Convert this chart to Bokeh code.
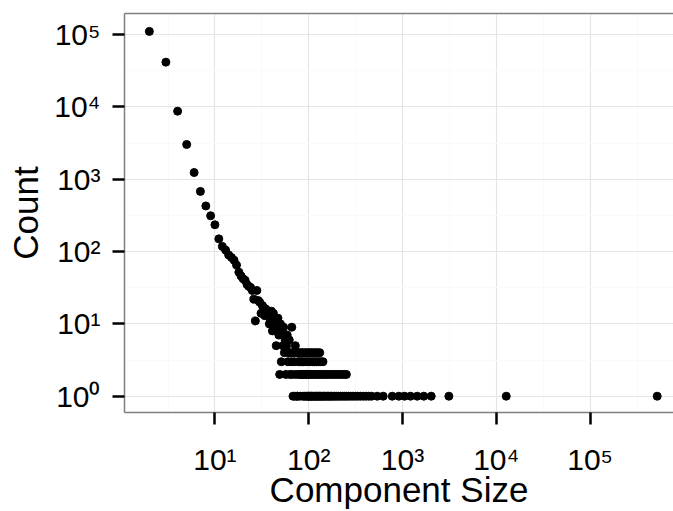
from bokeh.plotting import figure
from bokeh.models import FixedTicker, LogAxis, Range1d, ColumnDataSource
from bokeh.embed import file_html
from bokeh.resources import INLINE

# ---- data (component size -> number of components) ----
sizes_main = [2, 3, 4, 5, 6, 7, 8, 9, 10, 11, 12, 13, 14, 15, 16, 17, 18, 19,
              20, 21, 22, 23, 24, 25, 26, 27, 28, 29, 30, 31, 32, 33, 34, 35, 36, 37,
              38, 39, 40, 41, 42, 43, 44, 45, 46, 47, 48, 49, 50, 51, 52, 53, 54, 55,
              56, 57, 58, 59, 60, 61, 62, 63, 64, 65, 66, 67, 68, 69, 70, 71, 72, 73,
              74, 75]
counts_main = [111000, 41700, 8750, 3030, 1240, 680, 428, 313, 235, 150, 118, 105, 90, 83,
               76, 65, 52, 46,
               42, 40, 35, 33, 32, 29, 22, 11, 29, 21, 20, 14, 18, 17, 13, 16, 15, 14,
               10, 11, 15, 8, 14, 12, 11, 5, 9, 12, 7, 2, 10, 3, 8, 5, 9, 4,
               6, 2, 5, 7, 3, 4, 6, 2, 4, 3, 9, 2, 1, 4, 3, 1, 5, 2,
               4, 1]

sizes_count4 = [78, 82, 86, 91, 96, 101, 106, 112, 118, 124, 131]
sizes_count3 = [77, 80, 84, 88, 93, 98, 103, 109, 115, 121, 128, 135, 142]
sizes_count2 = [79, 83, 85, 89, 92, 95, 99, 104, 108, 113, 119, 126, 133, 140, 148, 157,
                166, 176, 187, 199, 212, 226, 240, 252]
sizes_count1 = [76, 81, 87, 90, 94, 97, 100, 102, 105, 107, 110, 114, 117, 120, 123, 127,
                130, 134, 138, 143, 147, 152, 158, 163, 169, 175, 182, 190, 198, 207, 217,
                228, 239, 251, 264, 279, 296, 314, 333, 355, 380, 407, 437, 468, 537, 622,
                777, 914, 1050, 1217, 1435, 1687, 2023, 3120, 12760, 519000]

x_tick_values = [10, 100, 1000, 10000, 100000]
x_tick_labels = ["10\u00b9", "10\u00b2", "10\u00b3", "10\u2074", "10\u2075"]
y_tick_values = [1, 10, 100, 1000, 10000, 100000]
y_tick_labels = ["10\u2070", "10\u00b9", "10\u00b2", "10\u00b3", "10\u2074", "10\u2075"]
half_decades = [10 ** 0.5, 10 ** 1.5, 10 ** 2.5, 10 ** 3.5, 10 ** 4.5, 10 ** 5.5]
x_title = "Component Size"
y_title = "Count"

all_sizes = (sizes_main + sizes_count4 + sizes_count3 + sizes_count2 + sizes_count1)
all_counts = (counts_main + [4] * len(sizes_count4) + [3] * len(sizes_count3)
              + [2] * len(sizes_count2) + [1] * len(sizes_count1))
src = ColumnDataSource(data=dict(size=all_sizes, count=all_counts))

FONT = "Liberation Sans"

p = figure(width=673, height=511, x_axis_type="log", y_axis_type="log",
           x_range=Range1d(10 ** 0.036, 10 ** 5.889),
           y_range=Range1d(10 ** -0.2254, 10 ** 5.293),
           output_backend="svg", toolbar_location=None,
           min_border_left=124, min_border_right=0, min_border_top=13,
           min_border_bottom=99, background_fill_color="white",
           border_fill_color="white")
p.outline_line_color = None

p.scatter("size", "count", source=src, size=8, color="black")

xt = FixedTicker(ticks=x_tick_values, minor_ticks=half_decades)
yt = FixedTicker(ticks=y_tick_values, minor_ticks=half_decades)

for ax, t, vals, labs in ((p.xaxis[0], xt, x_tick_values, x_tick_labels),
                          (p.yaxis[0], yt, y_tick_values, y_tick_labels)):
    ax.ticker = t
    ax.major_label_overrides = {v: l for v, l in zip(vals, labs)}
    ax.axis_line_color = "#7f7f7f"
    ax.axis_line_width = 1.5
    ax.major_tick_line_color = "black"
    ax.major_tick_line_width = 2.5
    ax.major_tick_out = 12
    ax.major_tick_in = 0
    ax.minor_tick_line_color = None
    ax.major_label_text_font = FONT
    ax.major_label_text_font_size = "30px"
    ax.major_label_text_color = "black"
    ax.axis_label_text_font = FONT
    ax.axis_label_text_font_size = "35px"
    ax.axis_label_text_font_style = "normal"
    ax.axis_label_text_color = "black"

p.xaxis.axis_label = x_title
p.yaxis.axis_label = y_title
p.xaxis.major_label_standoff = 18
p.xaxis.axis_label_standoff = -9
p.yaxis.major_label_standoff = 12
p.yaxis.axis_label_standoff = 6

top = LogAxis(ticker=FixedTicker(ticks=[]), axis_line_color="#7f7f7f",
              axis_line_width=1.5, major_tick_line_color=None,
              minor_tick_line_color=None, major_label_text_font_size="0px",
              major_tick_out=0, major_label_standoff=0)
p.add_layout(top, "above")

for g, t in ((p.xgrid[0], xt), (p.ygrid[0], yt)):
    g.ticker = t
    g.grid_line_color = "#e5e5e5"
    g.grid_line_width = 1.2
    g.minor_grid_line_color = "#fafafa"
    g.minor_grid_line_width = 1.2

open("out.html", "w").write(file_html(p, INLINE))
